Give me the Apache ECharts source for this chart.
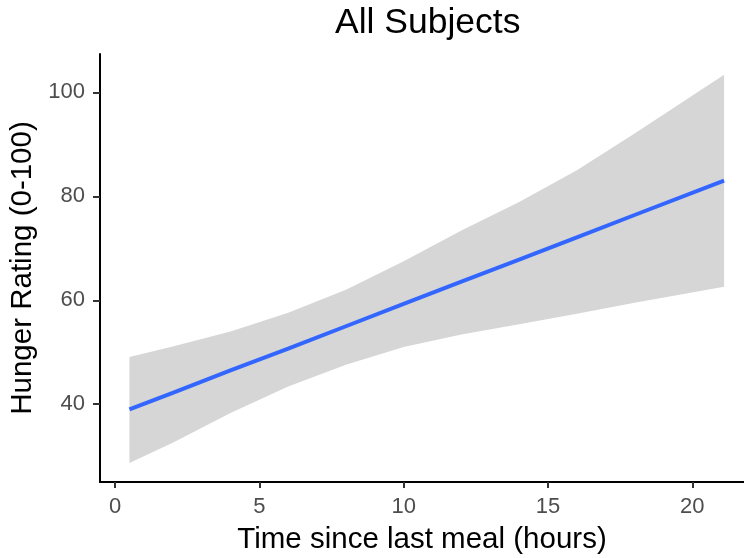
<!DOCTYPE html>
<html>
<head>
<meta charset="UTF-8">
<title>All Subjects</title>
<script src="https://cdn.jsdelivr.net/npm/echarts@6/dist/echarts.min.js"></script>
<style>
  html, body { margin: 0; padding: 0; background: #fff; }
  #main { width: 744px; height: 558px; }
</style>
</head>
<body>
<div id="main"></div>
<script>
// hours since last meal where the fit was sampled
var hours = [0.5, 2, 4, 6, 8, 10, 12, 14, 16, 18, 21.1];
// fitted hunger rating and its confidence band
var fitted = [39.0, 42.2, 46.5, 50.7, 55.0, 59.3, 63.6, 67.8, 72.1, 76.4, 83.0];
var upper = [49.1, 51.1, 54.0, 57.6, 62.0, 67.5, 73.4, 78.9, 85.0, 92.1, 103.4];
var lower = [28.7, 32.6, 38.3, 43.4, 47.6, 51.0, 53.4, 55.4, 57.4, 59.5, 62.6];
var xTicks = [0, 5, 10, 15, 20];
var yTicks = [40, 60, 80, 100];

var font = 'Liberation Sans, Arial, sans-serif';

var bandData = [], fitLine = [];
for (var i = 0; i < hours.length; i++) {
    bandData.push([hours[i], lower[i], upper[i]]);
    fitLine.push([hours[i], fitted[i]]);
}

// the whole ribbon is drawn as one polygon, from the first item
function renderBand(params, api) {
    if (params.dataIndex !== 0) return;
    var pts = [];
    for (var k = 0; k < bandData.length; k++) {
        pts.push(api.coord([bandData[k][0], bandData[k][2]]));
    }
    for (var k = bandData.length - 1; k >= 0; k--) {
        pts.push(api.coord([bandData[k][0], bandData[k][1]]));
    }
    return {
        type: 'polygon',
        shape: { points: pts },
        style: { fill: '#d6d6d6', stroke: null }
    };
}

var chart = echarts.init(document.getElementById('main'));
chart.setOption({
    animation: false,
    title: {
        text: 'All Subjects',
        left: 330,
        top: 0,
        textStyle: { fontFamily: font, fontSize: 35.5, fontWeight: 'normal', color: '#000' }
    },
    grid: { left: 100, right: 0, top: 54, bottom: 76, containLabel: false, outerBoundsMode: 'none' },
    xAxis: {
        type: 'value',
        min: -0.52,
        max: 21.79,
        name: 'Time since last meal (hours)',
        nameLocation: 'middle',
        nameGap: 43,
        nameTextStyle: { fontFamily: font, fontSize: 29.5, color: '#000' },
        splitLine: { show: false },
        axisLine: { onZero: false, lineStyle: { color: '#000', width: 2 } },
        axisTick: { customValues: xTicks, length: 6, lineStyle: { color: '#333', width: 2 } },
        axisLabel: { customValues: xTicks, margin: 14, fontFamily: font, fontSize: 22, color: '#4d4d4d' }
    },
    yAxis: {
        type: 'value',
        min: 25.04,
        max: 107.37,
        name: 'Hunger Rating (0-100)',
        nameLocation: 'middle',
        nameGap: 54,
        nameTextStyle: { fontFamily: font, fontSize: 29.5, color: '#000' },
        splitLine: { show: false },
        axisLine: { show: true, onZero: false, lineStyle: { color: '#000', width: 2 } },
        axisTick: { show: true, customValues: yTicks, length: 7, lineStyle: { color: '#333', width: 2 } },
        axisLabel: { customValues: yTicks, margin: 15, fontFamily: font, fontSize: 22, color: '#4d4d4d' }
    },
    series: [
        {
            type: 'custom',
            data: bandData,
            encode: { x: 0, y: [1, 2] },
            renderItem: renderBand,
            silent: true,
            z: 1
        },
        {
            type: 'line',
            data: fitLine,
            symbol: 'none',
            z: 2,
            lineStyle: { color: '#3366ff', width: 4 }
        }
    ]
});
</script>
</body>
</html>
